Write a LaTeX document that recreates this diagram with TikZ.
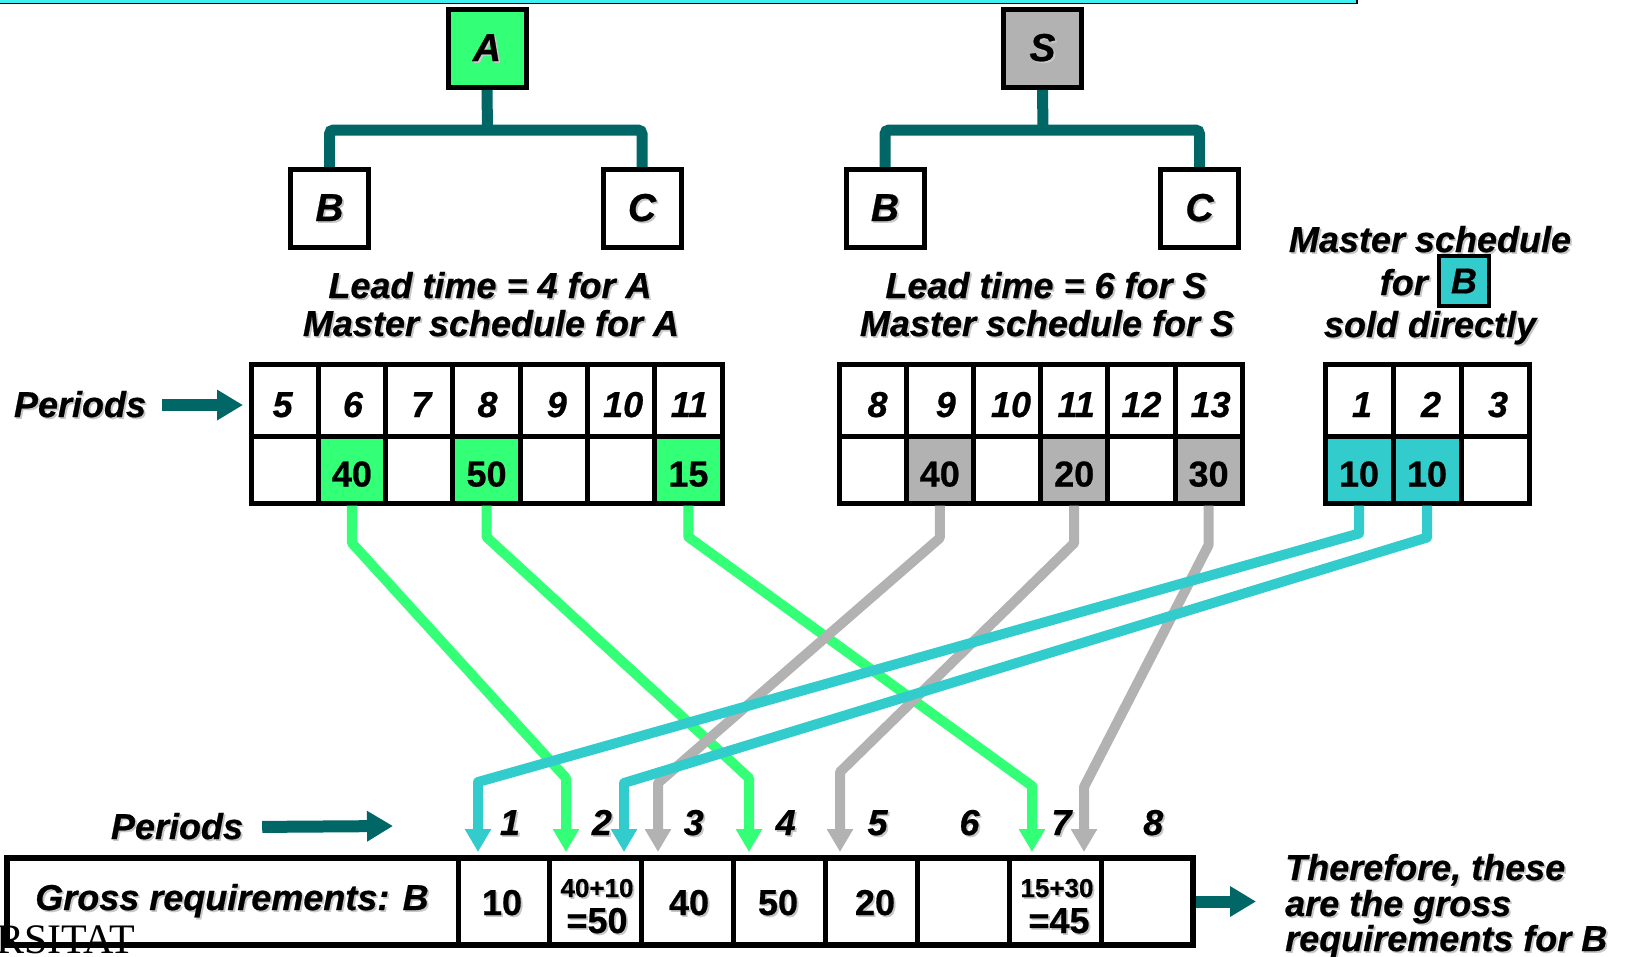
\documentclass[tikz,border=0pt]{standalone}
\usepackage{fontspec}
\setmainfont{Liberation Sans}[BoldFeatures={FakeBold=0.6}, BoldItalicFeatures={FakeBold=0.6}]
\newfontfamily\logofont{Liberation Serif}
\usetikzlibrary{arrows.meta}

\definecolor{mgreen}{RGB}{51,255,119}
\definecolor{mgray}{RGB}{178,178,178}
\definecolor{mcyan}{RGB}{51,204,204}
\definecolor{mteal}{RGB}{0,102,102}
\definecolor{barcyan}{RGB}{64,240,240}

\newcommand\bigbi{\fontsize{36}{38}\selectfont\bfseries\itshape}
\newcommand\bigb{\fontsize{36}{38}\selectfont\bfseries}
\newcommand\smallb{\fontsize{26}{28}\selectfont\bfseries}
\newcommand\letterbi{\fontsize{39}{40}\selectfont\bfseries\itshape}
% text with a soft drop shadow
\newcommand\shd[1]{\makebox[0pt][l]{\kern1.8pt\raisebox{-1.8pt}{\textcolor{black!22}{#1}}}#1}

\begin{document}
\begin{tikzpicture}[x=1pt,y=-1pt,
  txt/.style={inner sep=0pt, font=\bigbi},
  num/.style={inner sep=0pt, font=\bigb},
  part/.style={draw, fill=white, line width=5pt, minimum size=78pt, inner sep=0pt, font=\letterbi},
  treeline/.style={draw=mteal, line width=11pt, rounded corners=4pt},
  gcell/.style={draw, fill=white, line width=5pt, inner sep=0pt, text height=34pt, text depth=0pt},
  pcell/.style={gcell, minimum height=72pt, font=\bigbi},
  vcell/.style={gcell, minimum height=67pt, font=\bigb},
  feed/.style={line width=10pt, line join=round, -{Triangle[length=23pt,width=25pt]}},
  bigarrow/.style={draw=mteal, line width=12pt, -{Triangle[length=26pt,width=29pt]}},
]
\useasboundingbox (0,0) rectangle (1635,956);

% header strip
\fill[barcyan] (0,0) rectangle (1357,3);
\draw[line width=1.3pt] (0,3.3) -- (1357,3.3) -- (1357,0);

% product structure of A
\node[part, fill=mgreen] (A) at (487,48.5) {\shd{A}};
\node[part] (AB) at (329.5,208.5) {\shd{B}};
\node[part] (AC) at (642,208.5) {\shd{C}};
\coordinate (jA) at (487.5,130);
\draw[treeline] (A.south) -- (jA);
\draw[treeline] (AB.north) |- (jA) -| (AC.north);

% product structure of S
\node[part, fill=mgray] (S) at (1042.5,48.5) {\shd{S}};
\node[part] (SB) at (885,208.5) {\shd{B}};
\node[part] (SC) at (1199.5,208.5) {\shd{C}};
\coordinate (jS) at (1043,130);
\draw[treeline] (S.south) -- (jS);
\draw[treeline] (SB.north) |- (jS) -| (SC.north);

% captions
\node[txt, anchor=base] (la1) at (490,298) {\shd{Lead time = 4 for A}};
\node[txt, anchor=base] (la2) at (491,336) {\shd{Master schedule for A}};
\node[txt, anchor=base] (ls1) at (1046,298) {\shd{Lead time = 6 for S}};
\node[txt, anchor=base] (ls2) at (1047,336) {\shd{Master schedule for S}};
\node[txt, anchor=base] (mb1) at (1430,252) {\shd{Master schedule}};
\node[txt, anchor=base east] (mb2) at (1428,295) {\shd{for}};
\node[draw, line width=4pt, fill=mcyan, minimum size=50pt, inner sep=0pt, font=\bigbi] (Bd) at (1464,281) {B};
\node[txt, anchor=base] (mb3) at (1430,337) {\shd{sold directly}};

% master schedule for A
\foreach \p/\dx [count=\i] in {5/-4,6/2,7/4,8/2,9/6,10/4,11/2}
  \node[pcell, minimum width=67.3pt] (ap\i) at ({251+67.3*(\i-0.5)},400) {\kern\dx pt\p};
\foreach \v/\c [count=\i] in {/white,40/mgreen,/white,50/mgreen,/white,/white,15/mgreen}
  \node[vcell, minimum width=67.3pt, fill=\c] (av\i) at ({251+67.3*(\i-0.5)},469.5) {\v};

% master schedule for S
\foreach \p/\dx [count=\i] in {8/10,9/12,10/8,11/4,12/0,13/4}
  \node[pcell, minimum width=67.2pt] (sp\i) at ({839+67.2*(\i-0.5)},400) {\kern\dx pt\p};
\foreach \v/\c [count=\i] in {/white,40/mgray,/white,20/mgray,/white,30/mgray}
  \node[vcell, minimum width=67.2pt, fill=\c] (sv\i) at ({839+67.2*(\i-0.5)},469.5) {\v};

% master schedule for B sold directly
\foreach \p/\dx [count=\i] in {1/6,2/8,3/6}
  \node[pcell, minimum width=68pt] (bp\i) at ({1325+68*(\i-0.5)},400) {\kern\dx pt\p};
\foreach \v/\c [count=\i] in {10/mcyan,10/mcyan,/white}
  \node[vcell, minimum width=68pt, fill=\c] (bv\i) at ({1325+68*(\i-0.5)},469.5) {\v};

% periods label and arrow, top
\node[txt, anchor=base] (per1) at (80,417) {\shd{Periods}};
\draw[bigarrow, shorten <=16pt, shorten >=5.5pt] (per1.east) -- (per1.east -| ap1.west);

% arrow tips above the gross requirements row
\coordinate (tc1) at (478,852);
\coordinate (tg1) at (566,852);
\coordinate (tc2) at (624,852);
\coordinate (ty1) at (658,852);
\coordinate (tg2) at (749,852);
\coordinate (ty2) at (840,852);
\coordinate (tg3) at (1032,852);
\coordinate (ty3) at (1084,852);

% requirements carried down from A
\draw[feed, mgreen] (av2.south) -- ++(0,37.5) -- ([yshift=74pt]tg1) -- (tg1);
\draw[feed, mgreen] (av4.south) -- ++(0,31.5) -- ([yshift=74pt]tg2) -- (tg2);
\draw[feed, mgreen] (av7.south) -- ++(0,31.5) -- ([yshift=66pt]tg3) -- (tg3);
% requirements carried down from S
\draw[feed, mgray] (sv2.south) -- ++(0,32.5) -- ([yshift=69pt]ty1) -- (ty1);
\draw[feed, mgray] (sv4.south) -- ++(0,37.5) -- ([yshift=80pt]ty2) -- (ty2);
\draw[feed, mgray] (sv6.south) -- ++(0,39.5) -- ([yshift=65pt]ty3) -- (ty3);
% direct demand for B
\draw[feed, mcyan] (bv1.south) -- ++(0,28) -- ([yshift=70pt]tc1) -- (tc1);
\draw[feed, mcyan] (bv2.south) -- ++(0,32) -- ([yshift=69pt]tc2) -- (tc2);

% periods label and arrow, bottom
\node[txt, anchor=base] (per2) at (177,839) {\shd{Periods}};
\coordinate (per2end) at (393,826);
\draw[bigarrow, shorten <=19pt] (per2.east) -- (per2end);
\foreach \p [count=\i] in {1,...,8}
  \node[txt, anchor=base] (q\i) at ({458+91.9*(\i-0.5)+6},835) {\shd{\p}};

% gross requirements row
\node[draw, line width=6pt, minimum width=1186pt, minimum height=87pt, inner sep=0pt] (gross) at (600,901.5) {};
\foreach \k in {0,...,7}
  \draw[line width=5pt] ({458+91.9*\k},858) -- ({458+91.9*\k},945);
\node[txt, anchor=base] (grl) at (232,910) {\shd{Gross requirements: B}};
\node[num, anchor=base] (g1) at (502,915) {\shd{10}};
\node[num, anchor=base, font=\smallb] (g2a) at (597,897) {\shd{40+10}};
\node[num, anchor=base] (g2b) at (597,933) {\shd{=50}};
\node[num, anchor=base] (g3) at (689,915) {\shd{40}};
\node[num, anchor=base] (g4) at (778,915) {\shd{50}};
\node[num, anchor=base] (g5) at (875,915) {\shd{20}};
\node[num, anchor=base, font=\smallb] (g7a) at (1057,897) {\shd{15+30}};
\node[num, anchor=base] (g7b) at (1059,933) {\shd{=45}};

% conclusion
\node[txt, anchor=base west] (th1) at (1285,880) {\shd{Therefore, these}};
\node[txt, anchor=base west] (th2) at (1285,916) {\shd{are the gross}};
\node[txt, anchor=base west] (th3) at (1285,951) {\shd{requirements for B}};
\draw[bigarrow, shorten >=29pt] (gross.east) -- (gross.east -| th2.west);

% logo lettering at the lower left
\node[font={\logofont\fontsize{42}{44}\selectfont}, anchor=base west, inner sep=0pt] (logo) at (-4,953) {RSITAT};
\end{tikzpicture}
\end{document}
